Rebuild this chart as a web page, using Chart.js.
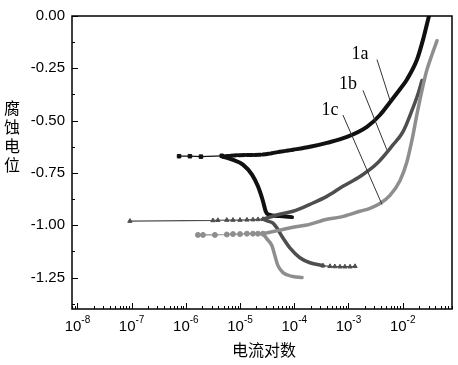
<!DOCTYPE html>
<html>
<head>
<meta charset="utf-8">
<script src="https://cdn.jsdelivr.net/npm/chart.js@4.4.0/dist/chart.umd.min.js"></script>
<style>
  html, body { margin: 0; padding: 0; background: #fff; }
</style>
</head>
<body>
<canvas id="myChart" width="458" height="365"></canvas>
<script>
// Tafel curves: current (A) on a log axis, potential (V)
// 1a - black, squares
const aFlatI = [7.5e-7, 1.19e-6, 1.9e-6, 4.6e-6];
const aFlatE = [-0.670, -0.670, -0.672, -0.668];
const aCathI = [4.8e-6, 7.4e-6, 1.13e-5, 1.66e-5, 2.14e-5, 2.65e-5, 2.97e-5, 3.27e-5, 5.4e-5, 9.1e-5];
const aCathE = [-0.672, -0.687, -0.710, -0.758, -0.814, -0.885, -0.933, -0.947, -0.956, -0.961];
const aAnoI = [4.8e-6, 1.0e-5, 2.33e-5, 5.4e-5, 9.5e-5, 1.95e-4, 4.0e-4, 9.4e-4, 2.19e-3, 3.81e-3, 5.83e-3, 8.9e-3, 1.2e-2, 1.84e-2, 2.37e-2, 2.93e-2, 3.06e-2];
const aAnoE = [-0.672, -0.665, -0.663, -0.649, -0.639, -0.625, -0.606, -0.578, -0.530, -0.473, -0.412, -0.350, -0.303, -0.208, -0.114, -0.019, 0];

// 1b - dark grey, triangles
const bFlatI = [9.3e-8, 3.16e-6, 3.9e-6, 5.7e-6, 7.4e-6, 1.0e-5, 1.34e-5, 1.73e-5, 2.14e-5, 2.65e-5];
const bFlatE = [-0.980, -0.977, -0.976, -0.975, -0.975, -0.975, -0.974, -0.973, -0.972, -0.971];
const bCathI = [2.65e-5, 3.27e-5, 4.05e-5, 4.8e-5, 6.2e-5, 8.3e-5, 1.27e-4, 1.95e-4, 3.39e-4];
const bCathE = [-0.971, -0.980, -0.990, -1.013, -1.061, -1.108, -1.155, -1.179, -1.193];
const bTailI = [3.39e-4, 4.56e-4, 5.6e-4, 6.97e-4, 8.6e-4, 1.07e-3, 1.32e-3];
const bTailE = [-1.193, -1.196, -1.197, -1.198, -1.198, -1.198, -1.196];
const bAnoI = [2.65e-5, 5.4e-5, 9.5e-5, 1.95e-4, 4.0e-4, 7.9e-4, 1.63e-3, 3.36e-3, 6.62e-3, 1.01e-2, 1.49e-2, 1.91e-2, 2.27e-2];
const bAnoE = [-0.971, -0.947, -0.933, -0.900, -0.862, -0.814, -0.767, -0.705, -0.616, -0.554, -0.450, -0.374, -0.308];

// 1c - light grey, circles
const cFlatI = [1.67e-6, 2.07e-6, 3.44e-6, 5.7e-6, 7.4e-6, 1.0e-5, 1.34e-5, 1.73e-5, 2.14e-5, 2.65e-5];
const cFlatE = [-1.046, -1.046, -1.046, -1.044, -1.042, -1.042, -1.040, -1.040, -1.040, -1.040];
const cCathI = [2.65e-5, 3.13e-5, 3.88e-5, 4.4e-5, 5.0e-5, 6.2e-5, 9.5e-5, 1.39e-4];
const cCathE = [-1.040, -1.065, -1.098, -1.146, -1.193, -1.226, -1.245, -1.250];
const cAnoI = [2.65e-5, 5.4e-5, 9.5e-5, 1.71e-4, 4.0e-4, 6.97e-4, 1.63e-3, 2.49e-3, 3.81e-3, 5.83e-3, 8.9e-3, 1.2e-2, 1.49e-2, 1.84e-2, 2.27e-2, 2.81e-2, 3.47e-2, 4.3e-2];
const cAnoE = [-1.040, -1.023, -1.009, -0.999, -0.971, -0.961, -0.933, -0.919, -0.896, -0.857, -0.787, -0.696, -0.591, -0.468, -0.355, -0.256, -0.185, -0.118];

// axes
const yTicks = [0, -0.25, -0.5, -0.75, -1.0, -1.25];
const xDecades = [-8, -7, -6, -5, -4, -3, -2];
const xTitle = "电流对数";
const yTitle = "腐蚀电位";

// curve labels and pointer lines (data units)
const labelNames = ["1a", "1b", "1c"];
const labelI = [1.63e-3, 9.8e-4, 4.56e-4];
const labelE = [-0.185, -0.327, -0.450];
const pointerFromI = [3.36e-3, 1.85e-3, 7.9e-4];
const pointerFromE = [-0.208, -0.355, -0.473];
const pointerToI = [5.83e-3, 5.1e-3, 4.15e-3];
const pointerToE = [-0.402, -0.639, -0.900];

const BLACK = "#111111";
const DARK = "#4e4e4e";
const LIGHT = "#8e8e8e";

function pts(xs, ys) {
  return xs.map((x, i) => ({ x: x, y: ys[i] }));
}

function thick(xs, ys, color, width) {
  return {
    data: pts(xs, ys),
    showLine: true,
    borderColor: color,
    borderWidth: width,
    pointRadius: 0,
    cubicInterpolationMode: "monotone",
    borderCapStyle: "round",
    borderJoinStyle: "round",
  };
}

function marked(xs, ys, color, style) {
  return {
    data: pts(xs, ys),
    showLine: true,
    borderColor: color,
    borderWidth: 1.2,
    pointStyle: style,
    pointRadius: 2.5,
    pointBackgroundColor: color,
    pointBorderColor: color,
    pointBorderWidth: 1,
  };
}

const aAno = thick(aAnoI, aAnoE, BLACK, 4);
// the low current part of 1a anodic looks dashed (spaced squares)
aAno.segment = {
  borderDash: (ctx) => (ctx.p1.parsed.x < 1.2e-4 ? [6, 2] : undefined),
};

const datasets = [
  thick(cAnoI, cAnoE, LIGHT, 3.5),
  thick(cCathI, cCathE, LIGHT, 3.5),
  marked(cFlatI, cFlatE, LIGHT, "circle"),
  thick(bAnoI, bAnoE, DARK, 3.5),
  thick(bCathI, bCathE, DARK, 3.5),
  marked(bTailI, bTailE, DARK, "triangle"),
  marked(bFlatI, bFlatE, DARK, "triangle"),
  aAno,
  thick(aCathI, aCathE, BLACK, 4),
  marked(aFlatI, aFlatE, BLACK, "rect"),
];

const decorPlugin = {
  id: "decor",
  afterDraw(chart) {
    const ctx = chart.ctx;
    const xs = chart.scales.x;
    const ys = chart.scales.y;
    const area = chart.chartArea;
    ctx.save();

    // frame
    ctx.strokeStyle = "#000";
    ctx.lineWidth = 1.5;
    ctx.strokeRect(area.left, area.top, area.right - area.left, area.bottom - area.top);

    // x ticks (inward)
    ctx.lineWidth = 1;
    ctx.beginPath();
    for (let d = -9; d <= -1; d++) {
      for (let k = 1; k <= 9; k++) {
        const v = k * Math.pow(10, d);
        if (v < xs.min || v > xs.max) continue;
        const px = Math.round(xs.getPixelForValue(v)) + 0.5;
        const len = k === 1 ? 6 : 3;
        ctx.moveTo(px, area.bottom);
        ctx.lineTo(px, area.bottom - len);
      }
    }
    // y ticks (inward)
    yTicks.forEach((v) => {
      const py = Math.round(ys.getPixelForValue(v)) + 0.5;
      ctx.moveTo(area.left, py);
      ctx.lineTo(area.left + 6, py);
      const m = v - 0.125;
      if (m > ys.min) {
        const pm = Math.round(ys.getPixelForValue(m)) + 0.5;
        ctx.moveTo(area.left, pm);
        ctx.lineTo(area.left + 3, pm);
      }
    });
    ctx.stroke();

    // x tick labels 10^n
    ctx.fillStyle = "#000";
    ctx.textBaseline = "alphabetic";
    ctx.textAlign = "left";
    xDecades.forEach((d) => {
      const px = xs.getPixelForValue(Math.pow(10, d));
      ctx.font = "15px 'Liberation Sans', Arial, sans-serif";
      const w1 = ctx.measureText("10").width;
      ctx.font = "10px 'Liberation Sans', Arial, sans-serif";
      const exp = String(d);
      const w2 = ctx.measureText(exp).width;
      const x0 = px - (w1 + w2) / 2;
      ctx.font = "15px 'Liberation Sans', Arial, sans-serif";
      ctx.fillText("10", x0, 331);
      ctx.font = "10px 'Liberation Sans', Arial, sans-serif";
      ctx.fillText(exp, x0 + w1, 323);
    });

    // axis titles
    ctx.font = "16px 'Noto Sans CJK SC', sans-serif";
    ctx.textAlign = "center";
    ctx.textBaseline = "middle";
    ctx.fillText(xTitle, (area.left + area.right) / 2 + 2, 350);
    const chars = Array.from(yTitle);
    chars.forEach((ch, i) => {
      ctx.fillText(ch, 12, 108 + i * 19);
    });

    // curve labels with pointer lines
    ctx.strokeStyle = "#333";
    ctx.lineWidth = 1;
    ctx.beginPath();
    labelNames.forEach((_, i) => {
      ctx.moveTo(xs.getPixelForValue(pointerFromI[i]), ys.getPixelForValue(pointerFromE[i]));
      ctx.lineTo(xs.getPixelForValue(pointerToI[i]), ys.getPixelForValue(pointerToE[i]));
    });
    ctx.stroke();
    ctx.font = "18px 'Liberation Serif', 'Times New Roman', serif";
    labelNames.forEach((name, i) => {
      ctx.fillText(name, xs.getPixelForValue(labelI[i]), ys.getPixelForValue(labelE[i]));
    });

    ctx.restore();
  },
};

new Chart("myChart", {
  type: "scatter",
  data: { datasets: datasets },
  options: {
    responsive: false,
    animation: false,
    devicePixelRatio: 1,
    layout: { padding: { top: 13, right: 6, left: 0, bottom: 0 } },
    plugins: {
      legend: { display: false },
      tooltip: { enabled: false },
    },
    scales: {
      x: {
        type: "logarithmic",
        min: Math.pow(10, -8.1),
        max: Math.pow(10, -1.09),
        grid: { display: false, drawTicks: false },
        border: { display: false },
        ticks: { display: false },
        afterFit(scale) {
          scale.height = 56;
        },
      },
      y: {
        type: "linear",
        min: -1.4,
        max: 0,
        grid: { display: false, drawTicks: false },
        border: { display: false },
        afterBuildTicks(scale) {
          scale.ticks = yTicks.map((v) => ({ value: v }));
        },
        ticks: {
          color: "#000",
          padding: 7,
          font: { family: "'Liberation Sans', Arial, sans-serif", size: 15 },
          callback: (v) => Number(v).toFixed(2),
        },
        afterFit(scale) {
          scale.width = 72;
        },
      },
    },
  },
  plugins: [decorPlugin],
});
</script>
</body>
</html>
